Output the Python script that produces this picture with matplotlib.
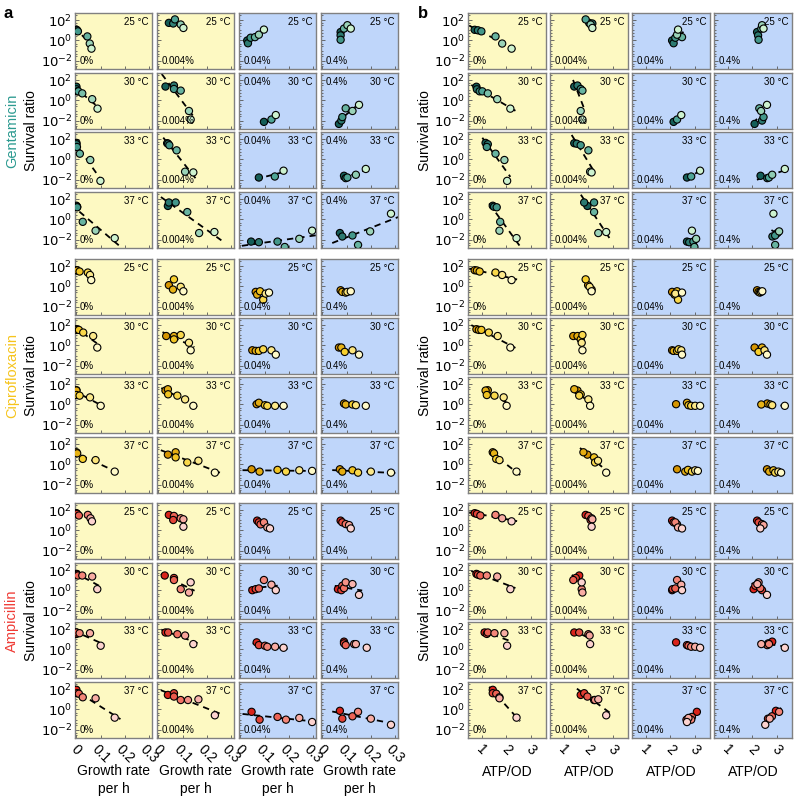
import numpy as np
import matplotlib
matplotlib.use('Agg')
import matplotlib.pyplot as plt
from matplotlib.colors import LinearSegmentedColormap
from matplotlib.ticker import FixedLocator, NullFormatter

plt.rcParams['font.family'] = ['Liberation Sans', 'DejaVu Sans']

temps = ['25 °C', '30 °C', '33 °C', '37 °C']
concs = ['0%', '0.004%', '0.04%', '0.4%']
antibiotics = ['Gentamicin', 'Ciprofloxacin', 'Ampicillin']
growth_ticks = [0, 0.1, 0.2, 0.3]
atp_ticks = [1, 2, 3]

# ---- Gentamicin: [temperature][concentration] ----
gen_growth = [
    [[0.0, 0.003, 0.006, 0.045, 0.055, 0.062], [0.043, 0.061, 0.068, 0.092, 0.103],
     [0.028, 0.031, 0.042, 0.06, 0.076, 0.097], [0.075, 0.075, 0.075, 0.089, 0.103, 0.117]],
    [[0.0, 0.0, 0.004, 0.008, 0.024, 0.065, 0.087], [0.029, 0.064, 0.064, 0.092, 0.126, 0.133],
     [0.097, 0.128, 0.146], [0.068, 0.078, 0.082, 0.096, 0.124, 0.151]],
    [[0.0, 0.0, 0.002, 0.014, 0.057, 0.099], [0.036, 0.04, 0.045, 0.075, 0.11, 0.144],
     [0.076, 0.142, 0.178], [0.089, 0.096, 0.103, 0.138, 0.179]],
    [[0.0, 0.003, 0.003, 0.026, 0.079, 0.158], [0.039, 0.043, 0.071, 0.119, 0.168, 0.231],
     [0.044, 0.076, 0.153, 0.183, 0.243, 0.296], [0.072, 0.082, 0.124, 0.147, 0.197, 0.283]],
]
gen_atp = [
    [[0.72, 0.85, 0.99, 1.56, 1.83, 2.21], [2.03, 2.16, 1.89, 2.09, 2.16],
     [2.07, 2.13, 2.2, 2.47, 2.27, 2.31], [2.19, 2.23, 2.25, 2.36, 2.39, 2.45]],
    [[0.79, 0.81, 0.92, 1.03, 1.25, 1.63, 2.16], [1.43, 1.56, 1.69, 1.76, 1.69, 1.76],
     [2.13, 2.27, 2.44], [2.09, 2.39, 2.45, 2.28, 2.35, 2.59]],
    [[1.16, 1.25, 1.21, 1.56, 1.92, 2.03], [1.43, 1.53, 1.69, 2.0, 2.07, 2.13],
     [2.67, 2.84, 3.2], [2.33, 2.6, 2.67, 2.8, 3.31]],
    [[1.45, 1.5, 1.61, 1.75, 1.72, 2.41], [1.96, 1.83, 2.23, 2.23, 2.4, 2.72],
     [2.67, 2.76, 2.93, 2.97, 3.04, 2.87], [3.01, 2.81, 2.92, 2.92, 3.08, 2.85]],
]
gen_log_survival = [
    [[1.05, 1.0, 0.9, 0.4, -0.3, -0.8], [1.73, 1.67, 2.07, 1.57, 1.23],
     [0.0, -0.27, 0.27, 0.33, 0.57, 1.07], [0.83, 0.5, 0.07, 1.17, 1.5, 1.17]],
    [[1.35, 1.1, 0.9, 0.9, 0.7, 0.13, -0.8], [1.37, 1.47, 1.13, 0.97, -1.03, -1.87],
     [-2.1, -1.87, -1.43], [-2.3, -1.97, -1.63, -0.77, -1.03, -0.43]],
    [[1.63, 1.5, 1.23, 0.57, -0.05, -2.1], [1.6, 1.55, 1.4, 0.9, -1.2, -1.27],
     [-1.77, -1.67, -1.1], [-1.6, -1.83, -1.77, -1.5, -0.93]],
    [[1.35, 1.25, 1.2, -0.23, -1.1, -1.83], [1.33, 1.67, 1.67, 0.73, -1.33, -1.23],
     [-2.17, -2.23, -2.17, -2.7, -1.9, -1.1], [-1.33, -1.67, -1.57, -2.5, -1.17, 0.57]],
]

# ---- Ciprofloxacin ----
cip_growth = [
    [[0.0, 0.003, 0.013, 0.047, 0.056, 0.061], [0.043, 0.064, 0.06, 0.092, 0.103],
     [0.063, 0.069, 0.081, 0.094, 0.104, 0.118], [0.075, 0.082, 0.096, 0.103, 0.117]],
    [[0.0, 0.003, 0.01, 0.028, 0.069, 0.086], [0.032, 0.064, 0.064, 0.092, 0.126, 0.133],
     [0.049, 0.063, 0.076, 0.094, 0.128, 0.146], [0.068, 0.078, 0.092, 0.124, 0.151]],
    [[0.0, 0.0, 0.0, 0.013, 0.056, 0.1], [0.029, 0.039, 0.04, 0.078, 0.11, 0.144],
     [0.067, 0.076, 0.101, 0.111, 0.143, 0.178], [0.089, 0.096, 0.124, 0.138, 0.179]],
    [[0.0, 0.003, 0.026, 0.079, 0.158], [0.039, 0.071, 0.071, 0.119, 0.165, 0.233],
     [0.046, 0.079, 0.153, 0.188, 0.243, 0.296], [0.072, 0.082, 0.124, 0.147, 0.2, 0.283]],
]
cip_atp = [
    [[0.72, 0.81, 0.92, 1.56, 1.83, 2.21], [1.99, 1.89, 2.13, 2.05, 2.13],
     [2.07, 2.17, 2.27, 2.31, 2.2, 2.47], [2.19, 2.25, 2.3, 2.35, 2.4]],
    [[0.79, 0.89, 0.99, 1.29, 1.65, 2.16], [1.39, 1.56, 1.69, 1.76, 1.73, 1.76],
     [2.07, 2.13, 2.27, 2.33, 2.44, 2.47], [2.09, 2.39, 2.25, 2.49, 2.59]],
    [[1.25, 1.16, 1.21, 1.52, 1.89, 2.01], [1.56, 1.43, 1.69, 1.63, 2.0, 2.07],
     [2.23, 2.67, 2.73, 2.84, 3.0, 3.2], [2.6, 2.36, 2.73, 2.8, 3.31]],
    [[1.45, 1.5, 1.59, 1.72, 2.41], [1.96, 1.8, 2.23, 2.27, 2.39, 2.72],
     [2.27, 2.6, 2.71, 2.87, 3.0, 3.11], [2.59, 2.68, 2.85, 2.92, 3.05, 3.16]],
]
cip_log_survival = [
    [[1.6, 1.57, 1.47, 1.37, 1.13, 0.63], [0.13, 0.7, -0.3, -0.03, -0.47],
     [-0.53, -0.8, -0.47, -1.3, -0.7, -0.6], [-0.37, -0.53, -0.6, -0.53, -0.47]],
    [[1.6, 1.53, 1.53, 1.27, 0.93, -0.2], [0.93, 0.93, 0.6, 1.03, 0.27, -0.47],
     [-0.47, -0.53, -0.53, -0.37, -0.47, -0.9], [-0.2, -0.2, -0.63, -0.47, -0.9]],
    [[1.4, 1.37, 0.93, 0.87, 0.7, -0.13], [1.37, 1.5, 1.0, 0.87, 0.5, -0.13],
     [0.03, 0.17, -0.07, -0.13, -0.13, -0.13], [0.1, 0.0, 0.0, -0.07, -0.13]],
    [[1.2, 1.1, 0.55, 0.43, -0.7], [0.97, 1.2, 0.7, 0.2, 0.37, -0.8],
     [-0.47, -0.7, -0.53, -0.7, -0.57, -0.63], [-0.47, -0.7, -0.57, -0.8, -0.7, -0.8]],
]

# ---- Ampicillin ----
amp_growth = [
    [[0.0, 0.003, 0.01, 0.047, 0.058, 0.064], [0.043, 0.064, 0.061, 0.092, 0.103, 0.103],
     [0.069, 0.076, 0.083, 0.097, 0.111, 0.122], [0.075, 0.082, 0.096, 0.11, 0.117]],
    [[0.0, 0.003, 0.006, 0.024, 0.065, 0.086], [0.026, 0.064, 0.064, 0.092, 0.126, 0.133],
     [0.049, 0.063, 0.076, 0.097, 0.128, 0.146], [0.064, 0.078, 0.082, 0.089, 0.096, 0.124, 0.151]],
    [[0.0, 0.0, 0.0, 0.013, 0.056, 0.1], [0.029, 0.04, 0.078, 0.11, 0.144],
     [0.067, 0.076, 0.101, 0.111, 0.143, 0.178], [0.089, 0.089, 0.096, 0.131, 0.138, 0.183]],
    [[0.0, 0.003, 0.01, 0.026, 0.079, 0.158], [0.039, 0.064, 0.064, 0.092, 0.122, 0.165, 0.233],
     [0.046, 0.079, 0.153, 0.188, 0.243, 0.296], [0.072, 0.082, 0.124, 0.147, 0.2, 0.283]],
]
amp_atp = [
    [[0.72, 0.81, 0.95, 1.56, 1.83, 2.21], [1.89, 2.0, 2.09, 2.13, 2.16, 2.13],
     [2.07, 2.13, 2.27, 2.2, 2.31, 2.47], [2.19, 2.25, 2.39, 2.45, 2.32]],
    [[0.79, 0.85, 0.95, 1.21, 1.63, 2.16], [1.63, 1.49, 1.39, 1.73, 1.76, 1.73],
     [2.07, 2.09, 2.2, 2.27, 2.44, 2.47], [2.05, 2.39, 2.12, 2.32, 2.25, 2.2, 2.59]],
    [[1.12, 1.21, 1.25, 1.52, 1.92, 2.03], [1.43, 1.63, 2.0, 2.05, 2.07],
     [2.23, 2.67, 2.73, 2.84, 3.0, 3.2], [2.8, 2.64, 2.6, 2.67, 2.36, 3.31]],
    [[1.45, 1.45, 1.59, 1.72, 1.72, 2.41], [1.69, 1.83, 1.96, 2.23, 2.27, 2.4, 2.72],
     [3.07, 2.65, 2.87, 2.84, 2.73, 2.67], [2.95, 2.63, 2.79, 3.08, 2.7, 2.52]],
]
amp_log_survival = [
    [[1.7, 1.63, 1.47, 1.53, 1.2, 0.9], [1.53, 1.43, 1.03, 1.2, 1.1, 0.37],
     [0.97, 0.8, 0.6, 0.8, 0.3, 0.2], [0.97, 0.8, 0.63, 0.53, 0.2]],
    [[1.63, 1.55, 1.47, 1.47, 1.37, 0.13], [1.47, 1.23, 1.03, 0.13, -0.2, 0.8],
     [0.03, 0.13, 0.2, 1.03, 0.57, 0.03], [0.13, 0.03, 0.47, 0.23, 0.8, 0.63, -0.43]],
    [[1.67, 1.53, 1.67, 1.6, 1.6, 0.37], [1.67, 1.67, 1.5, 1.37, 0.53],
     [0.7, 0.43, 0.37, 0.27, 0.27, 0.17], [0.77, 0.6, 0.43, 0.53, 0.53, 0.17]],
    [[1.93, 1.6, 1.55, 1.2, 1.1, -0.8], [1.43, 1.6, 1.27, 0.93, 0.93, 1.0, -0.57],
     [-0.23, -1.0, -0.73, -1.0, -0.83, -1.23], [-0.13, -0.9, -0.67, -0.23, -0.9, -1.5]],
]

growth_sets = [gen_growth, cip_growth, amp_growth]
atp_sets = [gen_atp, cip_atp, amp_atp]
surv_sets = [gen_log_survival, cip_log_survival, amp_log_survival]

label_colors = ['#2b9a90', '#f6c41c', '#ef3b35']
cmaps = [
    LinearSegmentedColormap.from_list('gen', ['#155e58', '#4fa596', '#cdf2cf']),
    LinearSegmentedColormap.from_list('cip', ['#d69500', '#f8d02c', '#fffac8']),
    LinearSegmentedColormap.from_list('amp', ['#d9241b', '#f27364', '#fcd3cf']),
]
bg_yellow = '#fdf9c2'
bg_blue = '#bfd6fa'
spine_col = '#808080'

W = H = 800.0
fig = plt.figure(figsize=(8, 8), dpi=100)

row_tops = [13, 73, 132, 192, 259, 318, 377, 437, 503, 563, 622, 682]
row_h = 56
a_lefts = [75, 157, 239, 321]
a_w = 77
b_lefts = [468, 550, 632, 714]
b_w = 78

YLIM = (10 ** -2.8, 10 ** 2.7)


def style_axes(ax, bg, first_col, last_row, xticks, xlim):
    ax.set_facecolor(bg)
    ax.set_yscale('log')
    ax.set_ylim(*YLIM)
    ax.set_xlim(*xlim)
    for s in ax.spines.values():
        s.set_color(spine_col)
        s.set_linewidth(1.0)
    ax.yaxis.set_major_locator(FixedLocator([1e-2, 1, 1e2]))
    ax.yaxis.set_minor_locator(FixedLocator([10.0 ** k for k in range(-3, 3)] +
                                            [m * 10.0 ** k for k in range(-3, 3) for m in (3, 5)]))
    ax.yaxis.set_minor_formatter(NullFormatter())
    ax.set_xticks(xticks)
    ax.tick_params(axis='both', which='both', direction='in', color='#555555', width=0.6)
    ax.tick_params(axis='y', which='major', length=3)
    ax.tick_params(axis='y', which='minor', length=1.5)
    ax.tick_params(axis='x', which='major', length=2.5, top=False)
    ax.tick_params(axis='y', right=False)
    if first_col:
        ax.set_yticklabels(['$10^{-2}$', '$10^{0}$', '$10^{2}$'], fontsize=9.5)
        ax.tick_params(axis='y', pad=2)
    else:
        ax.set_yticklabels([])
    if last_row:
        labels = [('%g' % t) for t in xticks]
        ax.set_xticklabels(labels, fontsize=10, rotation=-45, ha='center', va='top')
        ax.tick_params(axis='x', pad=3)
    else:
        ax.set_xticklabels([])


def draw_points(ax, x, logs, rank_src, cmap, with_line):
    x = np.asarray(x, dtype=float)
    logs = np.asarray(logs, dtype=float)
    rank = np.argsort(np.argsort(np.asarray(rank_src), kind='stable'), kind='stable')
    frac = rank / max(len(x) - 1, 1)
    if with_line:
        p = np.polyfit(x, logs, 1)
        span = x.max() - x.min()
        pad = 0.15 * span
        xs = np.array([x.min() - pad, x.max() + pad])
        ax.plot(xs, 10 ** np.polyval(p, xs), color='black', lw=1.3,
                dashes=(3.5, 2.8), zorder=2)
    ax.scatter(x, 10 ** logs, c=cmap(frac), s=27, edgecolors='black',
               linewidths=0.8, zorder=3)


for ab in range(3):
    for ti in range(4):
        r = ab * 4 + ti
        top = row_tops[r]
        bottom = 1 - (top + row_h) / H
        h = row_h / H
        for ci in range(4):
            g = growth_sets[ab][ti][ci]
            at = atp_sets[ab][ti][ci]
            sv = surv_sets[ab][ti][ci]
            bg = bg_yellow if ci < 2 else bg_blue
            last_row = (r == 11)
            # panel a
            axa = fig.add_axes([a_lefts[ci] / W, bottom, a_w / W, h])
            style_axes(axa, bg, ci == 0, last_row, growth_ticks, (-0.006, 0.312))
            draw_points(axa, g, sv, g, cmaps[ab], not (ti == 0 and ci > 0))
            axa.text(0.95, 0.93, temps[ti], transform=axa.transAxes, ha='right',
                     va='top', fontsize=7)
            if ab == 0 and ti > 0 and ci >= 2:
                axa.text(0.06, 0.93, concs[ci], transform=axa.transAxes, ha='left',
                         va='top', fontsize=7)
            else:
                axa.text(0.06, 0.05, concs[ci], transform=axa.transAxes, ha='left',
                         va='bottom', fontsize=7)
            # panel b
            axb = fig.add_axes([b_lefts[ci] / W, bottom, b_w / W, h])
            style_axes(axb, bg, ci == 0, last_row, atp_ticks, (0.45, 3.6))
            draw_points(axb, at, sv, g, cmaps[ab], True)
            axb.text(0.95, 0.93, temps[ti], transform=axb.transAxes, ha='right',
                     va='top', fontsize=7)
            axb.text(0.06, 0.05, concs[ci], transform=axb.transAxes, ha='left',
                     va='bottom', fontsize=7)

    # group labels
    y_mid = 1 - ((row_tops[ab * 4] + row_tops[ab * 4 + 3] + row_h) / 2) / H
    fig.text(12 / W, y_mid, antibiotics[ab], rotation=90, ha='center', va='center',
             fontsize=10.5, color=label_colors[ab])
    fig.text(31 / W, y_mid, 'Survival ratio', rotation=90, ha='center', va='center',
             fontsize=10)
    fig.text(425 / W, y_mid, 'Survival ratio', rotation=90, ha='center', va='center',
             fontsize=10)

for ci in range(4):
    fig.text((a_lefts[ci] + a_w / 2) / W, 1 - 764 / H, 'Growth rate\nper h',
             ha='center', va='top', fontsize=10, linespacing=1.35)
    fig.text((b_lefts[ci] + b_w / 2) / W, 1 - 765 / H, 'ATP/OD',
             ha='center', va='top', fontsize=10)

fig.text(4 / W, 1 - 14 / H, 'a', fontsize=12, fontweight='bold', ha='left', va='center')
fig.text(418 / W, 1 - 14 / H, 'b', fontsize=12, fontweight='bold', ha='left', va='center')

fig.savefig('out.png', dpi=100)
